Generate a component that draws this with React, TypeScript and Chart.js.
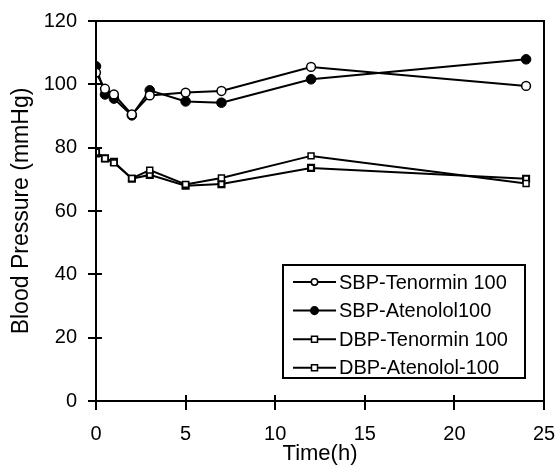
import React, { useEffect, useRef } from "react";
import { Chart, registerables } from "chart.js";

Chart.register(...registerables);

const timePoints = [0, 0.5, 1, 2, 3, 5, 7, 12, 24];
const sbpTenormin = [103.7, 98.6, 96.8, 90.5, 96.5, 97.4, 97.9, 105.5, 99.5];
const sbpAtenolol = [105.7, 96.8, 95.5, 90.2, 98.1, 94.6, 94.2, 101.6, 107.9];
const dbpTenormin = [78.6, 76.6, 75.2, 70.3, 72.9, 68.4, 70.4, 77.4, 68.7];
const dbpAtenolol = [78.2, 76.6, 75.5, 70.2, 71.4, 68.0, 68.5, 73.6, 70.2];
const seriesLabels = ["SBP-Tenormin 100", "SBP-Atenolol100", "DBP-Tenormin 100", "DBP-Atenolol-100"];
const xTicks = [0, 5, 10, 15, 20, 25];
const yTicks = [0, 20, 40, 60, 80, 100, 120];

const FONT = "Arial, 'Liberation Sans', sans-serif";

function toPoints(vals: number[]) {
  return timePoints.map((t, i) => ({ x: t, y: vals[i] }));
}

const frameAndTicks = {
  id: "frameAndTicks",
  afterDraw(chart: any) {
    const { ctx, chartArea } = chart;
    const xs = chart.scales.x;
    const ys = chart.scales.y;
    ctx.save();
    ctx.strokeStyle = "#000";
    ctx.lineWidth = 2;
    // frame
    ctx.beginPath();
    ctx.rect(chartArea.left, chartArea.top, chartArea.right - chartArea.left, chartArea.bottom - chartArea.top);
    ctx.stroke();
    // ticks crossing the axes
    ctx.beginPath();
    xTicks.forEach((v) => {
      const px = Math.round(xs.getPixelForValue(v));
      ctx.moveTo(px, chartArea.bottom - 6);
      ctx.lineTo(px, chartArea.bottom + 9);
    });
    yTicks.forEach((v) => {
      const py = Math.round(ys.getPixelForValue(v));
      ctx.moveTo(chartArea.left - 8, py);
      ctx.lineTo(chartArea.left + 6, py);
    });
    ctx.stroke();

    // legend
    const bx = 283, by = 265, bw = 242, bh = 113;
    ctx.fillStyle = "#fff";
    ctx.fillRect(bx, by, bw, bh);
    ctx.lineWidth = 2;
    ctx.strokeRect(bx, by, bw, bh);
    ctx.font = "20px " + FONT;
    ctx.textBaseline = "middle";
    ctx.textAlign = "left";
    chart.data.datasets.forEach((ds: any, i: number) => {
      const cy = by + 17 + i * 28.6;
      ctx.lineWidth = 2;
      ctx.strokeStyle = "#000";
      ctx.beginPath();
      ctx.moveTo(bx + 10, cy);
      ctx.lineTo(bx + 53, cy);
      ctx.stroke();
      const mx = bx + 31.5;
      ctx.fillStyle = ds.pointBackgroundColor;
      ctx.lineWidth = 1.5;
      ctx.beginPath();
      if (ds.pointStyle === "circle") {
        ctx.arc(mx, cy, i === 1 ? 3.8 : 3.2, 0, Math.PI * 2);
      } else {
        ctx.rect(mx - 3, cy - 3, 6, 6);
      }
      ctx.fill();
      ctx.stroke();
      ctx.fillStyle = "#000";
      ctx.fillText(ds.label, bx + 56, cy + 1);
    });
    ctx.restore();
  },
};

export default function App() {
  const ref = useRef<HTMLCanvasElement | null>(null);
  useEffect(() => {
    if (!ref.current) return;
    const chart = new Chart(ref.current, {
      type: "line",
      data: {
        datasets: [
          {
            label: seriesLabels[0],
            data: toPoints(sbpTenormin),
            borderColor: "#000",
            borderWidth: 2,
            pointStyle: "circle",
            pointRadius: 4.4,
            pointBorderWidth: 1.5,
            pointBackgroundColor: "#fff",
            pointBorderColor: "#000",
          },
          {
            label: seriesLabels[1],
            data: toPoints(sbpAtenolol),
            borderColor: "#000",
            borderWidth: 2,
            pointStyle: "circle",
            pointRadius: 4.8,
            pointBorderWidth: 1,
            pointBackgroundColor: "#000",
            pointBorderColor: "#000",
          },
          {
            label: seriesLabels[2],
            data: toPoints(dbpTenormin),
            borderColor: "#000",
            borderWidth: 2,
            pointStyle: "rect",
            pointRadius: 4.2,
            pointBorderWidth: 1.5,
            pointBackgroundColor: "#fff",
            pointBorderColor: "#000",
          },
          {
            label: seriesLabels[3],
            data: toPoints(dbpAtenolol),
            borderColor: "#000",
            borderWidth: 2,
            pointStyle: "rect",
            pointRadius: 4.2,
            pointBorderWidth: 2.2,
            pointBackgroundColor: "#fff",
            pointBorderColor: "#000",
          },
        ],
      },
      options: {
        responsive: false,
        animation: false,
        events: [],
        layout: { padding: { left: 0, right: 12, top: 21, bottom: 0 } },
        plugins: { legend: { display: false }, tooltip: { enabled: false } },
        scales: {
          x: {
            type: "linear",
            min: 0,
            max: 25,
            afterFit: (s: any) => {
              s.height = 64;
              s.paddingLeft = 0;
              s.paddingRight = 0;
            },
            afterBuildTicks: (s: any) => { s.ticks = xTicks.map((v) => ({ value: v })); },
            grid: { display: false, drawTicks: false },
            border: { display: false },
            ticks: { color: "#000", padding: 21, font: { family: FONT, size: 20 }, maxRotation: 0 },
            title: { display: true, text: "Time(h)", color: "#000", font: { family: FONT, size: 22, lineHeight: 1 }, padding: { top: 0, bottom: 0 } },
          },
          y: {
            type: "linear",
            min: 0,
            max: 120,
            afterFit: (s: any) => {
              s.width = 96;
              s.paddingTop = 0;
              s.paddingBottom = 0;
            },
            afterBuildTicks: (s: any) => { s.ticks = yTicks.map((v) => ({ value: v })); },
            grid: { display: false, drawTicks: false },
            border: { display: false },
            ticks: { color: "#000", padding: 19, font: { family: FONT, size: 20 } },
            title: { display: true, text: "Blood Pressure (mmHg)", color: "#000", font: { family: FONT, size: 23, lineHeight: 1 }, padding: { top: 10, bottom: 0 } },
          },
        },
      },
      plugins: [frameAndTicks],
    } as any);
    return () => chart.destroy();
  }, []);
  return (
    <div style={{ position: "fixed", left: 0, top: 0, width: 556, height: 465, background: "#fff" }}>
      <canvas ref={ref} width={556} height={465} />
    </div>
  );
}
